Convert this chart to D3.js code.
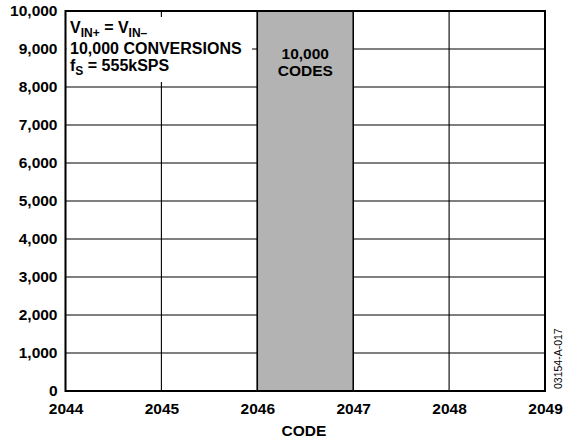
<!DOCTYPE html>
<html>
<head>
<meta charset="utf-8">
<script src="https://cdn.jsdelivr.net/npm/d3@7"></script>
<style>
  body { margin: 0; background: #fff; }
  text { font-family: Arial, "Liberation Sans", sans-serif; }
</style>
</head>
<body>
<svg id="chart" width="564" height="444"></svg>
<script>
// histogram data
var codes = [2044, 2045, 2046, 2047, 2048]
var hits = [0, 0, 10000, 0, 0]
var xTicks = [2044, 2045, 2046, 2047, 2048, 2049]
var yTicks = [0, 1000, 2000, 3000, 4000, 5000, 6000, 7000, 8000, 9000, 10000]

var svg = d3.select('#chart')
var plotL = 65.5, plotR = 545, plotT = 11, plotB = 391
var fontFam = 'Arial, "Liberation Sans", sans-serif'

var x = d3.scaleLinear().domain([2044, 2049]).range([plotL, plotR])
var y = d3.scaleLinear().domain([0, 10000]).range([plotB, plotT])

// grid
svg.append('g').selectAll('line').data(yTicks).enter().append('line')
    .attr('x1', plotL).attr('x2', plotR)
    .attr('y1', function (d) { return y(d) }).attr('y2', function (d) { return y(d) })
    .attr('stroke', '#000').attr('stroke-width', 1.1)
svg.append('g').selectAll('line').data(xTicks).enter().append('line')
    .attr('y1', plotT).attr('y2', plotB)
    .attr('x1', function (d) { return x(d) }).attr('x2', function (d) { return x(d) })
    .attr('stroke', '#000').attr('stroke-width', 1.1)

// bars
var barData = codes.map(function (c, i) { return { code: c, n: hits[i] } }).filter(function (d) { return d.n > 0 })
svg.append('g').selectAll('rect').data(barData).enter().append('rect')
    .attr('x', function (d) { return x(d.code) })
    .attr('width', function (d) { return x(d.code + 1) - x(d.code) })
    .attr('y', function (d) { return y(d.n) })
    .attr('height', function (d) { return plotB - y(d.n) })
    .attr('fill', '#b3b3b3').attr('stroke', '#000').attr('stroke-width', 1.5)

// note box
svg.append('rect').attr('x', plotL + 1).attr('y', 17).attr('width', 252 - plotL - 1).attr('height', 65).attr('fill', '#fff')

// frame
svg.append('rect').attr('x', plotL).attr('y', plotT).attr('width', plotR - plotL).attr('height', plotB - plotT)
    .attr('fill', 'none').attr('stroke', '#000').attr('stroke-width', 2)

// axes labels
var yAxis = d3.axisLeft(y).tickValues(yTicks).tickSize(0).tickPadding(8).tickFormat(d3.format(','))
var gy = svg.append('g').attr('transform', 'translate(' + plotL + ',0)').call(yAxis)
gy.select('.domain').remove()
gy.selectAll('text').attr('font-size', 15.5).attr('font-weight', 'bold').attr('fill', '#000')
    .attr('font-family', fontFam)

var xAxis = d3.axisBottom(x).tickValues(xTicks).tickSize(0).tickPadding(12).tickFormat(d3.format('d'))
var gx = svg.append('g').attr('transform', 'translate(0,' + plotB + ')').call(xAxis)
gx.select('.domain').remove()
gx.selectAll('text').attr('font-size', 15.5).attr('font-weight', 'bold').attr('fill', '#000')
    .attr('font-family', fontFam)

svg.append('text').attr('x', 304).attr('y', 436).attr('text-anchor', 'middle')
    .attr('font-size', 15.5).attr('font-weight', 'bold').text('CODE')

// notes
var note = svg.append('g').attr('font-size', 16).attr('font-weight', 'bold')
var t1 = note.append('text').attr('x', 70).attr('y', 33)
t1.append('tspan').text('V')
t1.append('tspan').attr('font-size', 12).attr('dy', 4).text('IN+')
t1.append('tspan').attr('dy', -4).text(' = V')
t1.append('tspan').attr('font-size', 12).attr('dy', 4).text('IN–')
note.append('text').attr('x', 70).attr('y', 54).text('10,000 CONVERSIONS')
var t3 = note.append('text').attr('x', 70).attr('y', 71)
t3.append('tspan').text('f')
t3.append('tspan').attr('font-size', 12).attr('dy', 4).text('S')
t3.append('tspan').attr('dy', -4).text(' = 555kSPS')

var cx = (x(2046) + x(2047)) / 2
note.append('text').attr('x', cx).attr('y', 59).attr('text-anchor', 'middle').attr('font-size', 15.5).text('10,000')
note.append('text').attr('x', cx).attr('y', 76).attr('text-anchor', 'middle').attr('font-size', 15.5).text('CODES')

svg.append('text').attr('transform', 'translate(562,389) rotate(-90)')
    .attr('font-size', 10.5).text('03154-A-017')
</script>
</body>
</html>
